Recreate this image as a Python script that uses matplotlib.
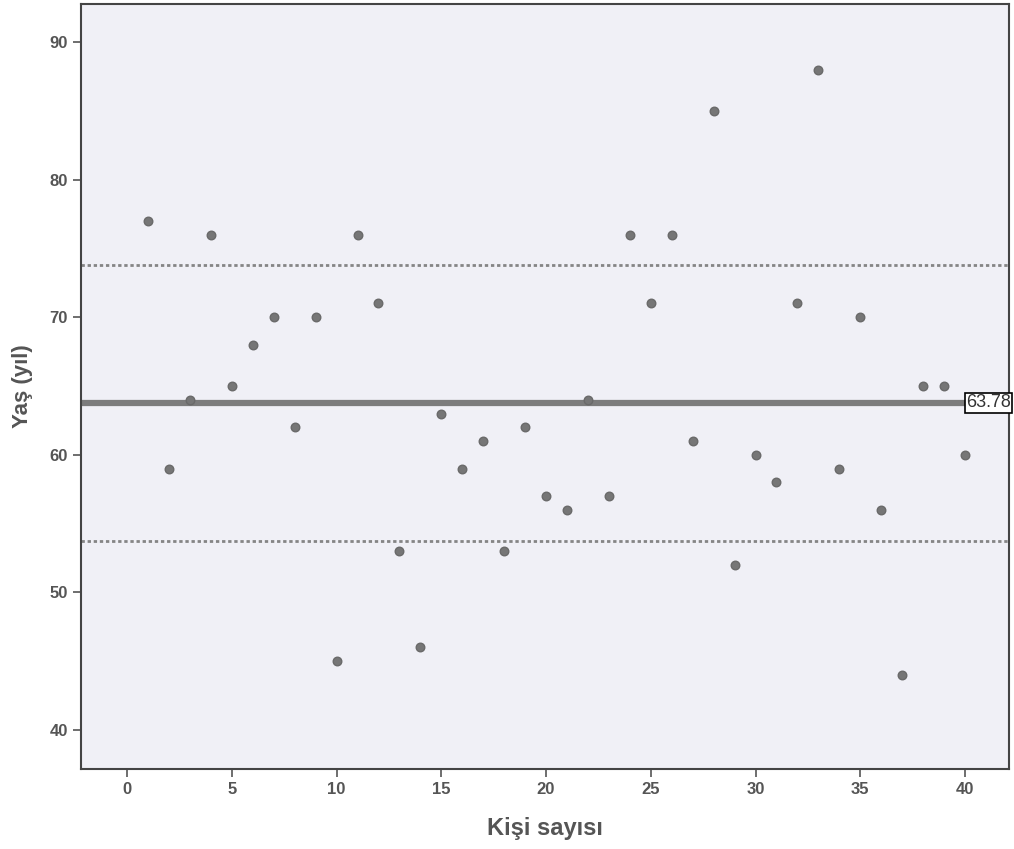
import matplotlib.pyplot as plt
import numpy as np
from decimal import Decimal, ROUND_HALF_UP

# kişi numarası ve yaş değerleri
kisi = np.arange(1, 41)
yas = [77, 59, 64, 76, 65, 68, 70, 62, 70, 45,
       76, 71, 53, 46, 63, 59, 61, 53, 62, 57,
       56, 64, 57, 76, 71, 76, 61, 85, 52, 60,
       58, 71, 88, 59, 70, 56, 44, 65, 65, 60]

x_ticks = [0, 5, 10, 15, 20, 25, 30, 35, 40]
y_ticks = [40, 50, 60, 70, 80, 90]

ortalama = np.mean(yas)
sd = np.std(yas, ddof=1)
etiket = str(Decimal(sum(yas)) / Decimal(len(yas)))
etiket = str(Decimal(etiket).quantize(Decimal("0.01"), rounding=ROUND_HALF_UP))

plt.rcParams['font.family'] = ['Liberation Sans', 'DejaVu Sans']
fig = plt.figure(figsize=(10.14, 8.49), dpi=100)
ax = fig.add_axes([81 / 1014, 1 - 769 / 849, (1009 - 81) / 1014, (769 - 4) / 849])
ax.set_facecolor("#f0f0f6")

ax.axhline(ortalama, color="#7c7c7c", lw=4.5, zorder=2)
ax.axhline(ortalama + sd, color="#858585", lw=2, ls=(0, (1.2, 1.0)), zorder=2)
ax.axhline(ortalama - sd, color="#858585", lw=2, ls=(0, (1.2, 1.0)), zorder=2)
ax.scatter(kisi, yas, s=38, color="#767676", edgecolors="#6a6a6a", zorder=3)

ax.set_xlim(-2.2, 42.1)
ax.set_ylim(37.17, 92.76)
ax.set_xticks(x_ticks)
ax.set_yticks(y_ticks)
ax.tick_params(labelsize=12, colors="#555555", width=1.2, length=6)
for lab in ax.get_xticklabels() + ax.get_yticklabels():
    lab.set_fontweight("bold")
for s in ax.spines.values():
    s.set_color("#444444")
    s.set_linewidth(1.5)

ax.text(40.05, ortalama, etiket, ha="left", va="center", fontsize=13,
        color="#333333", bbox=dict(facecolor="white", edgecolor="black", pad=1.0, lw=1.2),
        zorder=4, clip_on=False)

ax.set_xlabel("Kişi sayısı", fontsize=17, fontweight="bold", color="#555555", labelpad=14)
ax.set_ylabel("Yaş (yıl)", fontsize=16, fontweight="bold", color="#555555", labelpad=12)

plt.savefig("out.png", dpi=100)
plt.close()
